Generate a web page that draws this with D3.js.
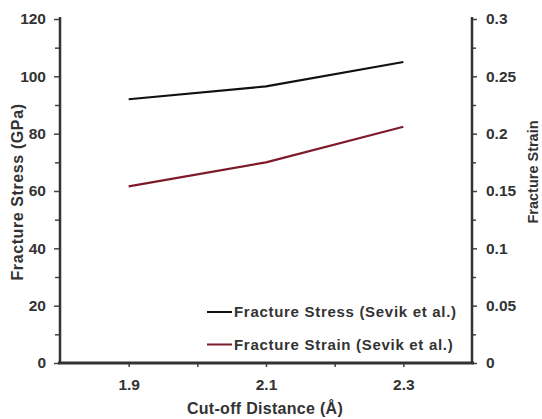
<!DOCTYPE html>
<html>
<head>
<meta charset="utf-8">
<script src="https://cdn.jsdelivr.net/npm/d3@7"></script>
<style>
  body { margin: 0; background: #fff; }
  svg text { font-family: Arial, "Liberation Sans", sans-serif; font-weight: bold; fill: #333; }
</style>
</head>
<body>
<div id="app"></div>
<script>
const cutoff = [1.9, 2.1, 2.3]
const stress = [92, 96.5, 105]
const strain = [0.154, 0.175, 0.206]
const xTicks = [1.9, 2.1, 2.3]
const leftTicks = [0, 20, 40, 60, 80, 100, 120]
const rightTicks = [0, 0.05, 0.1, 0.15, 0.2, 0.25, 0.3]
const series = [
  {name: "Fracture Stress (Sevik et al.)", color: "#111"},
  {name: "Fracture Strain (Sevik et al.)", color: "#7e1b2a"}
]

const width = 542, height = 419
const plotLeft = 60, plotRight = 472, plotTop = 19, plotBottom = 363

const svg = d3.select("#app").append("svg")
  .attr("width", width)
  .attr("height", height)

const x = d3.scaleLinear().domain([1.8, 2.4]).range([plotLeft, plotRight])
const yL = d3.scaleLinear().domain([0, 120]).range([plotBottom, plotTop])
const yR = d3.scaleLinear().domain([0, 0.3]).range([plotBottom, plotTop])

// minor ticks
svg.append("g")
  .attr("transform", `translate(${plotLeft},0)`)
  .call(d3.axisLeft(yL).tickValues(d3.range(10, 120, 20)).tickSize(5).tickFormat(""))
svg.append("g")
  .attr("transform", `translate(${plotRight},0)`)
  .call(d3.axisRight(yR).tickValues(d3.range(0.025, 0.3, 0.05)).tickSize(4).tickFormat(""))
svg.append("g")
  .attr("transform", `translate(0,${plotBottom})`)
  .call(d3.axisBottom(x).tickValues([2.0, 2.2]).tickSize(4).tickFormat(""))

// main axes
svg.append("g")
  .attr("transform", `translate(${plotLeft},0)`)
  .call(d3.axisLeft(yL).tickValues(leftTicks).tickSize(6).tickPadding(8))
svg.append("g")
  .attr("transform", `translate(${plotRight},0)`)
  .call(d3.axisRight(yR).tickValues(rightTicks).tickSize(5).tickPadding(9)
    .tickFormat(d => String(+d.toFixed(2))))
svg.append("g")
  .attr("transform", `translate(0,${plotBottom})`)
  .call(d3.axisBottom(x).tickValues(xTicks).tickSize(4).tickPadding(12).tickFormat(d3.format(".1f")))

svg.selectAll(".domain").remove()
svg.selectAll(".tick line").attr("stroke", "#444").attr("stroke-width", 1.5)
svg.selectAll(".tick text").style("font-size", "15.5px").attr("fill", "#333")

svg.append("line").attr("x1", plotLeft).attr("x2", plotLeft).attr("y1", plotTop - 2).attr("y2", plotBottom)
  .attr("stroke", "#333").attr("stroke-width", 2.5)
svg.append("line").attr("x1", plotRight).attr("x2", plotRight).attr("y1", plotTop - 2).attr("y2", plotBottom)
  .attr("stroke", "#333").attr("stroke-width", 2.5)
svg.append("line").attr("x1", plotLeft - 2).attr("x2", plotRight + 2).attr("y1", plotBottom).attr("y2", plotBottom)
  .attr("stroke", "#333").attr("stroke-width", 3)

// lines
const stressLine = d3.line().x((d, i) => x(cutoff[i])).y(d => yL(d))
const strainLine = d3.line().x((d, i) => x(cutoff[i])).y(d => yR(d))

svg.append("path").datum(stress)
  .attr("d", stressLine)
  .attr("fill", "none")
  .attr("stroke", series[0].color)
  .attr("stroke-width", 2.2)
svg.append("path").datum(strain)
  .attr("d", strainLine)
  .attr("fill", "none")
  .attr("stroke", series[1].color)
  .attr("stroke-width", 2.2)

// axis titles
svg.append("text")
  .attr("transform", `translate(23,192) rotate(-90)`)
  .attr("text-anchor", "middle")
  .style("font-size", "16px")
  .style("letter-spacing", "0.6px")
  .text("Fracture Stress (GPa)")
svg.append("text")
  .attr("transform", `translate(538,172) rotate(-90)`)
  .attr("text-anchor", "middle")
  .style("font-size", "14.5px")
  .text("Fracture Strain")
svg.append("text")
  .attr("x", 265)
  .attr("y", 414)
  .attr("text-anchor", "middle")
  .style("font-size", "16px")
  .style("letter-spacing", "0.3px")
  .text("Cut-off Distance (Å)")

// legend
const legend = svg.append("g")
  .selectAll("g")
  .data(series)
  .enter()
  .append("g")
  .attr("transform", (d, i) => `translate(207,${312 + i * 32.5})`)
legend.append("line")
  .attr("x1", 0).attr("x2", 25)
  .attr("stroke", d => d.color)
  .attr("stroke-width", 2)
legend.append("text")
  .attr("x", 27)
  .attr("dy", "0.35em")
  .style("font-size", "15px")
  .style("letter-spacing", "0.7px")
  .text(d => d.name)
</script>
</body>
</html>
